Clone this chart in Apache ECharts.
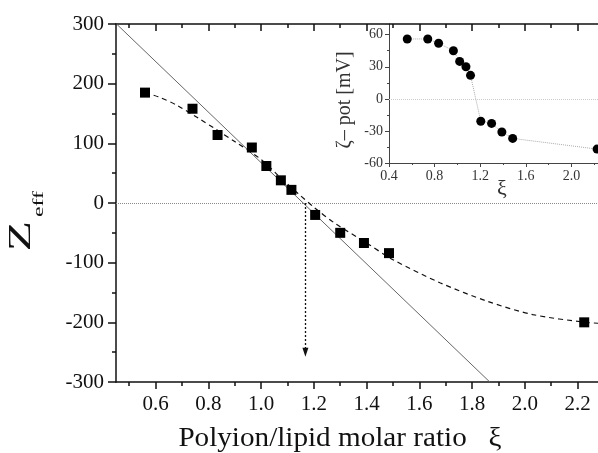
<!DOCTYPE html>
<html><head><meta charset="utf-8">
<script src="https://cdn.jsdelivr.net/npm/echarts@6/dist/echarts.min.js"></script>
<style>html,body{margin:0;padding:0;background:#fff}#c{width:598px;height:453px}</style>
</head><body><div id="c"></div>
<script>
// ---- data ----
const ratio   = [0.56, 0.74, 0.835, 0.965, 1.02, 1.075, 1.115, 1.205, 1.30, 1.39, 1.485, 2.225];
const zEff    = [185, 158, 114, 93, 62, 38, 22, -20, -50, -67, -84, -200];
const zetaPot = [56, 56, 52, 45, 35, 30, 22, -21, -23, -31, -37, -47];
const fitX    = [0.56, 0.61, 0.68, 0.77, 0.82, 0.90, 1.00, 1.07, 1.14, 1.20, 1.28, 1.40, 1.50, 1.68, 1.86, 2.03, 2.23, 2.30];
const fitZ    = [185, 178, 164, 140, 126, 103, 73, 44, 16, -7, -34, -67, -95, -134, -165, -187, -200, -202];
const lineX   = [0.452, 1.867];
const lineZ   = [300, -300];
const arrowXi = 1.168;
const arrowZ  = [0, -250];
const mainXMajor = [0.6, 0.8, 1.0, 1.2, 1.4, 1.6, 1.8, 2.0, 2.2];
const mainXMinor = [0.5, 0.7, 0.9, 1.1, 1.3, 1.5, 1.7, 1.9, 2.1];

const F = '"Liberation Serif", "Times New Roman", serif';
const zip = (a, b) => a.map((v, i) => [v, b[i]]);

const chart = echarts.init(document.getElementById('c'), null, {renderer: 'canvas'});

const mainX = (pos, ticks, len, inside, showLine, showLabel) => ({
  type: 'value', gridIndex: 0, position: pos, min: 0.45, max: 2.3,
  axisLine: {show: showLine, onZero: false, lineStyle: {color: '#111', width: 1.5}},
  axisTick: {show: true, inside: inside, length: len, customValues: ticks, lineStyle: {color: '#111', width: 1.5}},
  axisLabel: {show: showLabel, customValues: ticks, fontFamily: F, fontSize: 21, color: '#111', margin: 12,
    formatter: v => v.toFixed(1)},
  splitLine: {show: false}
});

const option = {
  animation: false,
  backgroundColor: '#fff',
  grid: [
    {left: 116, top: 24, right: -6, bottom: 71, outerBoundsMode: 'none', containLabel: false},
    {left: 389, top: 24, right: -19, bottom: 290, outerBoundsMode: 'none', containLabel: false}
  ],
  xAxis: [
    mainX('bottom', mainXMajor, 7, false, true, true),
    mainX('bottom', mainXMinor, 4, false, false, false),
    mainX('top', mainXMajor, 7, true, true, false),
    mainX('top', mainXMinor, 4, true, false, false),
    {
      type: 'value', gridIndex: 1, position: 'bottom', min: 0.4, max: 2.4, interval: 0.4,
      axisLine: {onZero: false, lineStyle: {color: '#444', width: 1}},
      axisTick: {inside: false, length: 4, lineStyle: {color: '#444'}},
      minorTick: {show: true, splitNumber: 2, length: 2, lineStyle: {color: '#444'}},
      axisLabel: {fontFamily: F, fontSize: 14, color: '#333', margin: 6, formatter: v => v.toFixed(1)},
      splitLine: {show: false}
    }
  ],
  yAxis: [
    {
      type: 'value', gridIndex: 0, min: -300, max: 300, interval: 100,
      axisLine: {onZero: false, lineStyle: {color: '#111', width: 1.5}},
      axisTick: {inside: false, length: 8, lineStyle: {color: '#111', width: 1.5}},
      minorTick: {show: true, splitNumber: 2, length: 4, lineStyle: {color: '#111', width: 1.5}},
      axisLabel: {fontFamily: F, fontSize: 21, color: '#111', margin: 12},
      splitLine: {show: false}
    },
    {
      type: 'value', gridIndex: 1, min: -60, max: 70, interval: 30,
      axisLine: {onZero: false, lineStyle: {color: '#444', width: 1}},
      axisTick: {inside: false, length: 4, lineStyle: {color: '#444'}},
      minorTick: {show: true, splitNumber: 2, length: 2, lineStyle: {color: '#444'}},
      axisLabel: {fontFamily: F, fontSize: 14, color: '#333', margin: 6},
      splitLine: {show: false}
    }
  ],
  series: [
    {
      type: 'line', xAxisIndex: 0, yAxisIndex: 0, data: zip(lineX, lineZ),
      symbol: 'none', lineStyle: {color: '#666', width: 1}, silent: true,
      markLine: {
        silent: true, symbol: 'none', label: {show: false},
        lineStyle: {color: '#888', type: 'dotted', width: 1},
        data: [{yAxis: 0}]
      }
    },
    {
      type: 'line', xAxisIndex: 0, yAxisIndex: 0, data: zip(fitX, fitZ),
      symbol: 'none', smooth: 0.3, lineStyle: {color: '#111', width: 1.2, type: [5, 4]}, silent: true,
      markLine: {
        silent: true, symbol: ['none', 'triangle'], symbolSize: [6, 9], label: {show: false},
        lineStyle: {color: '#111', type: [2, 2], width: 1.3},
        data: [[{coord: [arrowXi, arrowZ[0]]}, {coord: [arrowXi, arrowZ[1]]}]]
      }
    },
    {
      type: 'scatter', xAxisIndex: 0, yAxisIndex: 0, data: zip(ratio, zEff), z: 5,
      symbol: 'rect', symbolSize: 10, itemStyle: {color: '#000', opacity: 1}, silent: true
    },
    {
      type: 'line', xAxisIndex: 4, yAxisIndex: 1, data: zip(ratio, zetaPot),
      symbol: 'none', lineStyle: {color: '#aaa', width: 1, type: 'dotted'}, silent: true,
      markLine: {
        silent: true, symbol: 'none', label: {show: false},
        lineStyle: {color: '#ccc', type: 'dotted', width: 1},
        data: [{yAxis: 0}]
      }
    },
    {
      type: 'scatter', xAxisIndex: 4, yAxisIndex: 1, data: zip(ratio, zetaPot), z: 5,
      symbol: 'circle', symbolSize: 9, itemStyle: {color: '#000', opacity: 1}, silent: true
    }
  ],
  graphic: [
    {type: 'text', x: 340, y: 439, scaleX: 1.08, silent: true,
      style: {text: 'Polyion/lipid molar ratio   ξ', font: '27px ' + F, fill: '#111', align: 'center', verticalAlign: 'middle'}},
    {type: 'text', x: 22, y: 236, rotation: Math.PI / 2, scaleX: 1.55, silent: true,
      style: {text: 'Z', font: '32px ' + F, fill: '#111', align: 'center', verticalAlign: 'middle'}},
    {type: 'text', x: 39, y: 204, rotation: Math.PI / 2, scaleX: 1.6, silent: true,
      style: {text: 'eff', font: '15px ' + F, fill: '#111', align: 'center', verticalAlign: 'middle'}},
    {type: 'text', x: 345, y: 100, rotation: Math.PI / 2, silent: true,
      style: {text: 'ζ– pot [mV]', font: '20px ' + F, fill: '#333', align: 'center', verticalAlign: 'middle'}},
    {type: 'text', x: 502, y: 189, silent: true,
      style: {text: 'ξ', font: '22px ' + F, fill: '#333', align: 'center', verticalAlign: 'middle'}}
  ]
};
chart.setOption(option);
</script>
</body></html>
